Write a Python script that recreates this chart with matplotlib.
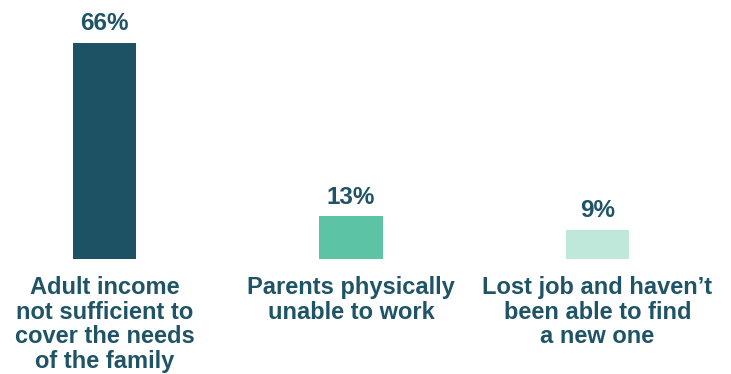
import matplotlib.pyplot as plt

categories = ['Adult income\nnot sufficient to\ncover the needs\nof the family',
              'Parents physically\nunable to work',
              'Lost job and haven\u2019t\nbeen able to find\na new one']
values = [66, 13, 9]
colors = ['#1c5263', '#5cc4a4', '#bfe8da']
text_color = '#1f5466'

plt.rcParams['font.family'] = ['Liberation Sans', 'DejaVu Sans']

fig = plt.figure(figsize=(7.31, 3.74), dpi=100)
ax = fig.add_axes([0, 1 - 259 / 374, 1, 216 / 374])

x = list(range(len(values)))
bars = ax.bar(x, values, width=0.256, color=colors)
ax.set_xlim(-0.424, 2.542)
ax.set_ylim(0, 66)
ax.axis('off')

for xi, v in zip(x, values):
    ax.annotate(f'{v}%', (xi, v), xytext=(0, 5.5), textcoords='offset points',
                ha='center', va='bottom', fontsize=17.5, fontweight='bold',
                color=text_color, annotation_clip=False)

for xi, lab in zip(x, categories):
    ax.annotate(lab, (xi, 0), xytext=(0, -12.5), textcoords='offset points',
                ha='center', va='top', fontsize=17, fontweight='bold',
                color=text_color, linespacing=1.08, annotation_clip=False)

fig.savefig('out.png', dpi=100)
